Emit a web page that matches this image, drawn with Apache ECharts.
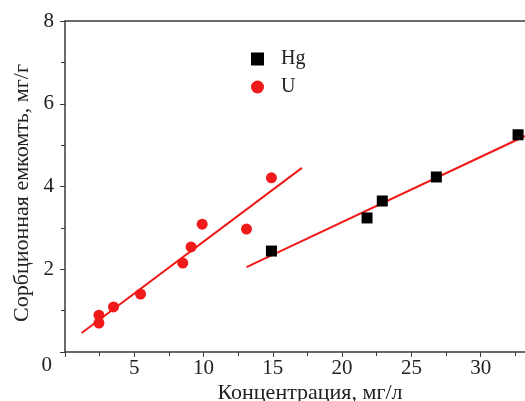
<!DOCTYPE html>
<html>
<head>
    <meta charset="UTF-8">
    <title>Сорбционная емкость</title>
    <script src="https://cdn.jsdelivr.net/npm/echarts@6/dist/echarts.min.js"></script>
</head>
<body style="margin:0">
    <div id="main" style="width: 525px; height: 401px;"></div>
    <script>
        // точки U
        var uX = [2.45, 2.45, 3.5, 5.45, 8.5, 9.1, 9.9, 13.1, 14.9];
        var uY = [0.89, 0.70, 1.09, 1.40, 2.15, 2.54, 3.09, 2.97, 4.21];
        // точки Hg
        var hgX = [14.9, 21.8, 22.9, 26.8, 32.7];
        var hgY = [2.44, 3.24, 3.65, 4.23, 5.25];
        // линии аппроксимации
        var uFitX = [1.2, 17.1];
        var uFitY = [0.46, 4.45];
        var hgFitX = [13.1, 33.2];
        var hgFitY = [2.05, 5.22];

        function pairs(xs, ys) {
            return xs.map(function (x, i) { return [x, ys[i]]; });
        }

        var font = 'Liberation Serif';
        var axisColor = '#3a3a3a';
        var red = '#f01a1a';

        var myChart = echarts.init(document.getElementById('main'));

        var option = {
            animation: false,
            backgroundColor: '#fff',
            grid: { left: 65, top: 21, right: 0, bottom: 49, outerBoundsMode: 'none', containLabel: false },
            legend: {
                data: ['Hg', 'U'],
                orient: 'vertical',
                left: 246,
                top: 44,
                itemGap: 8,
                itemWidth: 13,
                itemHeight: 13,
                textStyle: { fontFamily: font, fontSize: 20, color: '#222', padding: [0, 0, 0, 12] }
            },
            xAxis: [{
                type: 'value',
                min: 0,
                max: 33.2,
                interval: 5,
                name: 'Концентрация, мг/л',
                nameLocation: 'middle',
                nameGap: 30,
                nameMoveOverlap: false,
                nameTextStyle: { fontFamily: font, fontSize: 22, color: '#222', padding: [0, 0, 0, 30] },
                axisLine: { lineStyle: { color: axisColor, width: 1.5 } },
                axisTick: { inside: false, length: 5, lineStyle: { color: axisColor } },
                minorTick: { show: true, splitNumber: 2, length: 4, lineStyle: { color: axisColor } },
                axisLabel: {
                    fontFamily: font, fontSize: 21, color: '#222', margin: 6,
                    showMaxLabel: false,
                    formatter: function (v) { return (v === 0 || v % 5 !== 0) ? '' : v; }
                },
                splitLine: { show: false }
            }, {
                type: 'value',
                position: 'top',
                min: 0,
                max: 33.2,
                axisLine: { show: true, onZero: false, lineStyle: { color: axisColor, width: 1.5 } },
                axisTick: { show: false },
                axisLabel: { show: false },
                splitLine: { show: false }
            }],
            yAxis: {
                type: 'value',
                min: 0,
                max: 8,
                interval: 2,
                name: 'Сорбционная емкомть, мг/г',
                nameLocation: 'middle',
                nameGap: 32,
                nameMoveOverlap: false,
                nameTextStyle: { fontFamily: font, fontSize: 22, color: '#222', padding: [0, 13, 0, 0] },
                axisLine: { show: true, lineStyle: { color: axisColor, width: 1.5 } },
                axisTick: { inside: false, length: 5, lineStyle: { color: axisColor } },
                minorTick: { show: true, splitNumber: 2, length: 4, lineStyle: { color: axisColor } },
                axisLabel: {
                    fontFamily: font, fontSize: 21, color: '#222', margin: 11,
                    formatter: function (v) { return v === 0 ? '{z|0}' : v; },
                    rich: { z: { fontFamily: font, fontSize: 21, color: '#222', padding: [26, 2, 0, 0] } }
                },
                splitLine: { show: false }
            },
            series: [{
                name: 'Hg',
                type: 'scatter',
                symbol: 'rect',
                symbolSize: 11,
                itemStyle: { color: '#000', opacity: 1 },
                data: pairs(hgX, hgY),
                z: 3
            }, {
                name: 'U',
                type: 'scatter',
                symbol: 'circle',
                symbolSize: 11,
                itemStyle: { color: red, opacity: 1 },
                data: pairs(uX, uY),
                z: 3
            }, {
                name: 'U fit',
                type: 'line',
                showSymbol: false,
                lineStyle: { color: red, width: 2 },
                data: pairs(uFitX, uFitY),
                z: 2
            }, {
                name: 'Hg fit',
                type: 'line',
                showSymbol: false,
                lineStyle: { color: red, width: 2 },
                data: pairs(hgFitX, hgFitY),
                z: 2
            }]
        };

        myChart.setOption(option);
    </script>
</body>
</html>
